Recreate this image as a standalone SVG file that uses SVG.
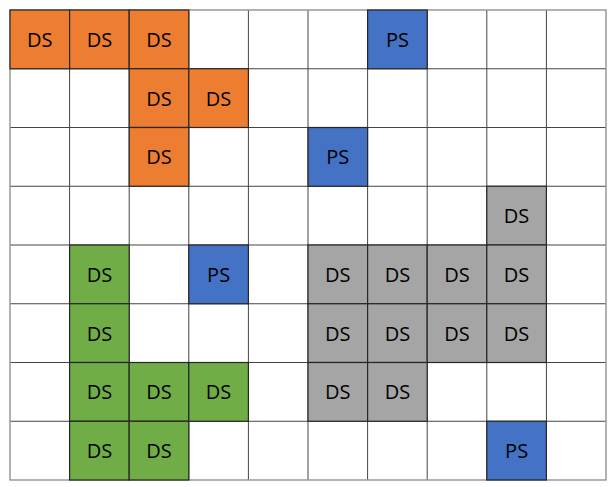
<svg xmlns="http://www.w3.org/2000/svg" width="612" height="487" viewBox="0 0 612 487">
<style>
.c{stroke:#262626;stroke-width:1.2}
.o{fill:#ED7D31}.b{fill:#4472C4}.g{fill:#A5A5A5}.n{fill:#70AD47}
text{font-family:"Open Sans","Noto Sans",sans-serif;font-size:20px;fill:#000;text-anchor:middle;dominant-baseline:central}
.grid line{stroke:#444;stroke-width:1}
</style>
<rect x="0" y="0" width="612" height="487" fill="#fff"/>
<g class="grid" id="grid">
<line x1="69.6" y1="10" x2="69.6" y2="480"/>
<line x1="129.2" y1="10" x2="129.2" y2="480"/>
<line x1="188.8" y1="10" x2="188.8" y2="480"/>
<line x1="248.4" y1="10" x2="248.4" y2="480"/>
<line x1="308" y1="10" x2="308" y2="480"/>
<line x1="367.6" y1="10" x2="367.6" y2="480"/>
<line x1="427.2" y1="10" x2="427.2" y2="480"/>
<line x1="486.8" y1="10" x2="486.8" y2="480"/>
<line x1="546.4" y1="10" x2="546.4" y2="480"/>
<line x1="10" y1="68.75" x2="606" y2="68.75"/>
<line x1="10" y1="127.5" x2="606" y2="127.5"/>
<line x1="10" y1="186.25" x2="606" y2="186.25"/>
<line x1="10" y1="245" x2="606" y2="245"/>
<line x1="10" y1="303.75" x2="606" y2="303.75"/>
<line x1="10" y1="362.5" x2="606" y2="362.5"/>
<line x1="10" y1="421.25" x2="606" y2="421.25"/>
<rect x="10" y="10" width="596" height="470" fill="none" stroke="#999" stroke-width="1.5"/>
</g>
<g id="orange">
<g id="o1"><rect class="c o" x="10" y="10" width="59.6" height="58.75"/><text x="39.8" y="39.4">DS</text></g>
<g id="o2"><rect class="c o" x="69.6" y="10" width="59.6" height="58.75"/><text x="99.4" y="39.4">DS</text></g>
<g id="o3"><rect class="c o" x="129.2" y="10" width="59.6" height="58.75"/><text x="159" y="39.4">DS</text></g>
<g id="o4"><rect class="c o" x="129.2" y="68.75" width="59.6" height="58.75"/><text x="159" y="98.1">DS</text></g>
<g id="o5"><rect class="c o" x="188.8" y="68.75" width="59.6" height="58.75"/><text x="218.6" y="98.1">DS</text></g>
<g id="o6"><rect class="c o" x="129.2" y="127.5" width="59.6" height="58.75"/><text x="159" y="156.9">DS</text></g>
</g>
<g id="blue">
<g id="p1"><rect class="c b" x="367.6" y="10" width="59.6" height="58.75"/><text x="397.4" y="39.4">PS</text></g>
<g id="p2"><rect class="c b" x="308" y="127.5" width="59.6" height="58.75"/><text x="337.8" y="156.9">PS</text></g>
<g id="p3"><rect class="c b" x="188.8" y="245" width="59.6" height="58.75"/><text x="218.6" y="274.4">PS</text></g>
<g id="p4"><rect class="c b" x="486.8" y="421.25" width="59.6" height="58.75"/><text x="516.6" y="450.6">PS</text></g>
</g>
<g id="gray">
<g id="g1"><rect class="c g" x="486.8" y="186.25" width="59.6" height="58.75"/><text x="516.6" y="215.6">DS</text></g>
<g id="g2"><rect class="c g" x="308" y="245" width="59.6" height="58.75"/><text x="337.8" y="274.4">DS</text></g>
<g id="g3"><rect class="c g" x="367.6" y="245" width="59.6" height="58.75"/><text x="397.4" y="274.4">DS</text></g>
<g id="g4"><rect class="c g" x="427.2" y="245" width="59.6" height="58.75"/><text x="457" y="274.4">DS</text></g>
<g id="g5"><rect class="c g" x="486.8" y="245" width="59.6" height="58.75"/><text x="516.6" y="274.4">DS</text></g>
<g id="g6"><rect class="c g" x="308" y="303.75" width="59.6" height="58.75"/><text x="337.8" y="333.1">DS</text></g>
<g id="g7"><rect class="c g" x="367.6" y="303.75" width="59.6" height="58.75"/><text x="397.4" y="333.1">DS</text></g>
<g id="g8"><rect class="c g" x="427.2" y="303.75" width="59.6" height="58.75"/><text x="457" y="333.1">DS</text></g>
<g id="g9"><rect class="c g" x="486.8" y="303.75" width="59.6" height="58.75"/><text x="516.6" y="333.1">DS</text></g>
<g id="g10"><rect class="c g" x="308" y="362.5" width="59.6" height="58.75"/><text x="337.8" y="391.9">DS</text></g>
<g id="g11"><rect class="c g" x="367.6" y="362.5" width="59.6" height="58.75"/><text x="397.4" y="391.9">DS</text></g>
</g>
<g id="green">
<g id="n1"><rect class="c n" x="69.6" y="245" width="59.6" height="58.75"/><text x="99.4" y="274.4">DS</text></g>
<g id="n2"><rect class="c n" x="69.6" y="303.75" width="59.6" height="58.75"/><text x="99.4" y="333.1">DS</text></g>
<g id="n3"><rect class="c n" x="69.6" y="362.5" width="59.6" height="58.75"/><text x="99.4" y="391.9">DS</text></g>
<g id="n4"><rect class="c n" x="129.2" y="362.5" width="59.6" height="58.75"/><text x="159" y="391.9">DS</text></g>
<g id="n5"><rect class="c n" x="188.8" y="362.5" width="59.6" height="58.75"/><text x="218.6" y="391.9">DS</text></g>
<g id="n6"><rect class="c n" x="69.6" y="421.25" width="59.6" height="58.75"/><text x="99.4" y="450.6">DS</text></g>
<g id="n7"><rect class="c n" x="129.2" y="421.25" width="59.6" height="58.75"/><text x="159" y="450.6">DS</text></g>
</g>
</svg>
